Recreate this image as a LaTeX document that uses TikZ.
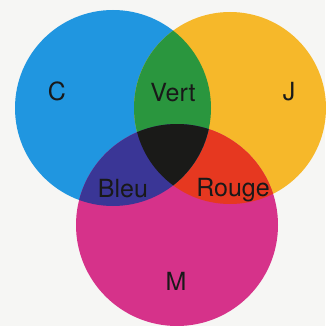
\documentclass[tikz,border=0pt]{standalone}
\usepackage{fontspec}
\setmainfont{TeX Gyre Heros}
\definecolor{paper}{RGB}{246,246,244}
\definecolor{inkC}{RGB}{32,150,224}
\definecolor{inkJ}{RGB}{246,184,42}
\definecolor{inkM}{RGB}{214,50,138}
\definecolor{inkG}{RGB}{42,150,62}
\definecolor{inkB}{RGB}{58,54,150}
\definecolor{inkR}{RGB}{230,56,32}
\definecolor{inkK}{RGB}{26,26,24}

\begin{document}
\begin{tikzpicture}
    [%
        x=1pt,%
        y=-1pt,%
        ink label/.style={%
            font=\fontsize{25}{30}\selectfont,%
            text=black!90,%
            anchor=base,%
            inner sep=0pt%
        }%
    ]%
%
    \useasboundingbox[fill=paper] (0,0) rectangle (325,326);
    % centres of the three ink discs
    \coordinate (C-centre) at (113,108);
    \coordinate (J-centre) at (230,108);
    \coordinate (M-centre) at (177,225);
    % draw each disc in its own ink
    % \ink disc name, \r disc radius
    \foreach \ink/\r in {C/98pt,J/96pt,M/101pt} {
        \fill[ink\ink] (\ink-centre) circle (\r);
    } % \foreach \ink/\r
% overlap of yellow and magenta
    \begin{scope}
        \clip (J-centre) circle (96pt);
        \fill[inkR] (M-centre) circle (101pt);
    \end{scope}
% overlaps of the cyan disc
    \begin{scope}
        \clip (C-centre) circle (98pt);
        \fill[inkG] (J-centre) circle (96pt);
        \fill[inkB] (M-centre) circle (101pt);
        % all three inks
        \clip (J-centre) circle (96pt);
        \fill[inkK] (M-centre) circle (101pt);
    \end{scope}
% label the discs and their overlaps
    % \name node name, \txt label, \x/\y baseline position
    \foreach \name/\txt/\x/\y in {%
        C/C/57/100,%
        J/J/289/100,%
        M/M/176/290,%
        vert/Vert/173/102,%
        bleu/Bleu/123/197,%
        rouge/Rouge/233/196%
    }{%
        \node[ink label] (\name-label) at (\x,\y) {\txt};%
    } % \foreach \name/\txt
\end{tikzpicture}
\end{document}
